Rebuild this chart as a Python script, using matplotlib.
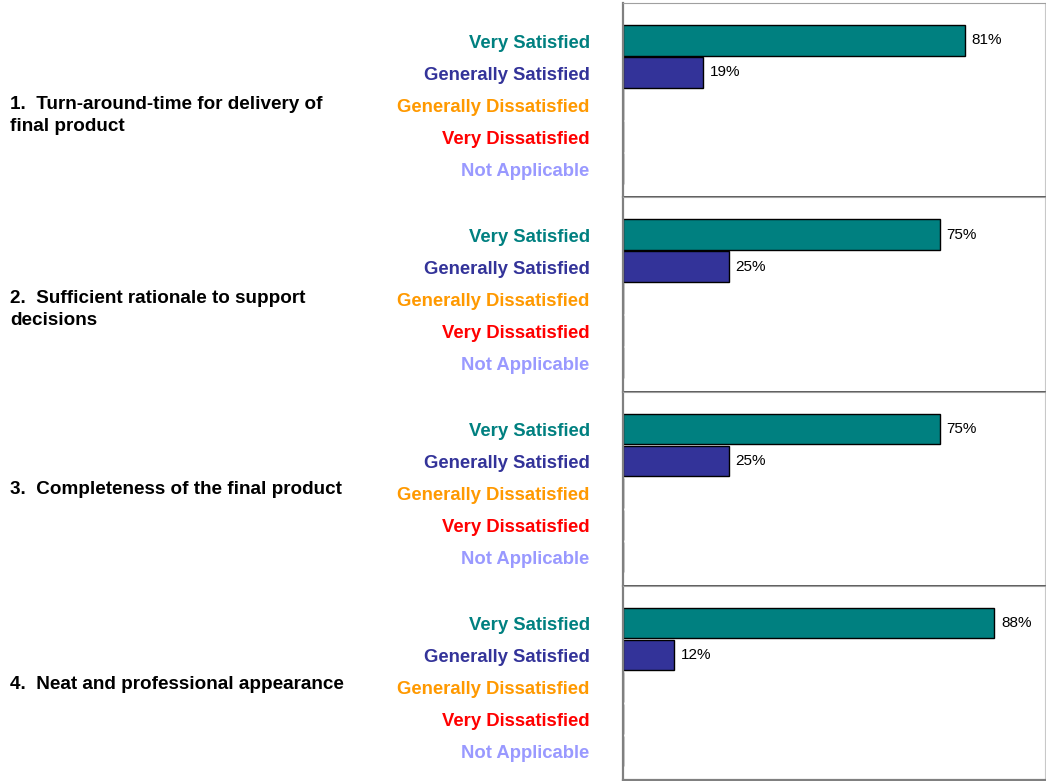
import matplotlib.pyplot as plt

plt.rcParams["font.family"] = ["Liberation Sans", "DejaVu Sans"]

QUESTIONS = [
    "1.  Turn-around-time for delivery of\nfinal product",
    "2.  Sufficient rationale to support\ndecisions",
    "3.  Completeness of the final product",
    "4.  Neat and professional appearance",
]
CATEGORIES = [
    "Very Satisfied",
    "Generally Satisfied",
    "Generally Dissatisfied",
    "Very Dissatisfied",
    "Not Applicable",
]
CAT_COLORS = ["#008080", "#333399", "#FF9900", "#FF0000", "#9999FF"]

# percent per category, one list per question (only first two categories answered)
Q1_VALUES = [81, 19, 0, 0, 0]
Q2_VALUES = [75, 25, 0, 0, 0]
Q3_VALUES = [75, 25, 0, 0, 0]
Q4_VALUES = [88, 12, 0, 0, 0]


def draw_panel(ax, values, question):
    positions = list(range(len(CATEGORIES)))
    ax.barh(positions, values, height=0.95, color=CAT_COLORS,
            edgecolor="black", linewidth=1.0)

    for pos, val in zip(positions, values):
        if val > 0:
            ax.annotate(f"{val}%", xy=(val, pos), xytext=(5, 0),
                        textcoords="offset points", va="center", ha="left",
                        fontsize=11)

    # category labels drawn as text so they can sit a little below the bar centre
    for pos, name, color in zip(positions, CATEGORIES, CAT_COLORS):
        ax.annotate(name, xy=(0, pos), xycoords=("axes fraction", "data"),
                    xytext=(-24, -2), textcoords="offset points",
                    ha="right", va="center", fontsize=13.3,
                    fontweight="bold", color=color)

    ax.set_xlim(0, 100)
    ax.set_ylim(4.9, -1.17)
    ax.set_xticks([])
    ax.set_yticks([])

    lines = question.split("\n")
    y_first = 0.47 if len(lines) == 1 else 0.455
    for k, line in enumerate(lines):
        ax.annotate(line, xy=(-1.453, y_first), xycoords="axes fraction",
                    xytext=(0, -16 * k), textcoords="offset points",
                    ha="left", va="baseline", fontsize=13.6,
                    fontweight="bold")


fig = plt.figure(figsize=(10.46, 7.81), dpi=100)

all_values = [Q1_VALUES, Q2_VALUES, Q3_VALUES, Q4_VALUES]
left = 623 / 1046
width = (1045 - 623) / 1046
top_px = 3
panel_px = 194.25

for i, (values, question) in enumerate(zip(all_values, QUESTIONS)):
    y0 = 1 - (top_px + (i + 1) * panel_px) / 781
    ax = fig.add_axes([left, y0, width, panel_px / 781])
    draw_panel(ax, values, question)
    ax.spines["left"].set_color("#808080")
    ax.spines["left"].set_linewidth(1.6)
    ax.spines["top"].set_color("#a0a0a0")
    ax.spines["right"].set_color("#c8c8c8")
    if i < 3:
        ax.spines["bottom"].set_color("#404040")
        ax.spines["bottom"].set_linewidth(1.2)
    else:
        ax.spines["bottom"].set_color("#808080")
        ax.spines["bottom"].set_linewidth(1.6)

fig.savefig("out.png", dpi=100)
